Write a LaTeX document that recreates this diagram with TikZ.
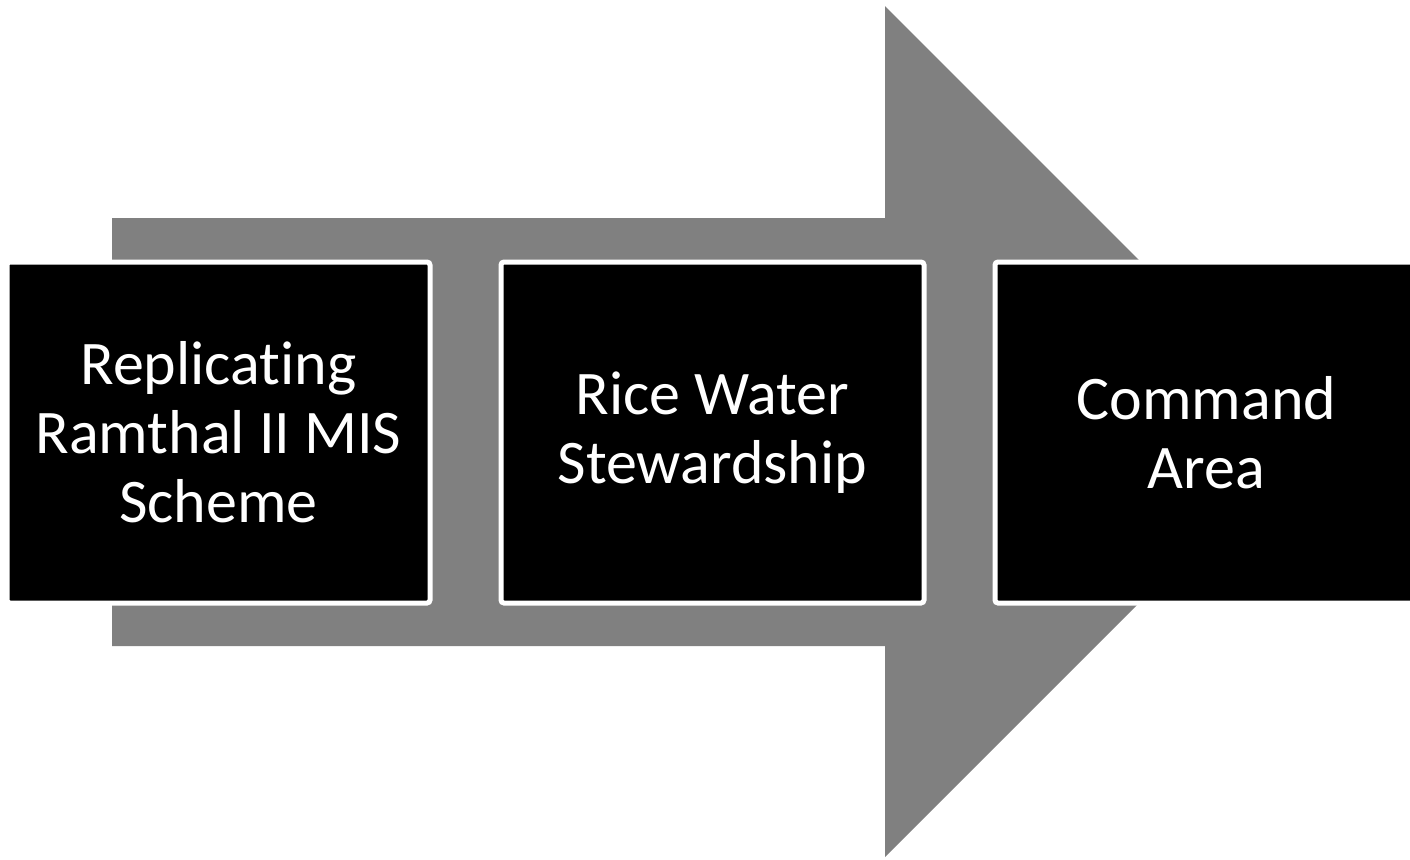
\documentclass[tikz,border=0pt]{standalone}
\usepackage{fontspec}
\setmainfont{Carlito}[Ligatures=NoCommon]
\usetikzlibrary{positioning}
\tikzset {
  % big gray arrow behind the stages
  flow arrow/.style = {
    fill = gray,
    draw = none
  },
  % one stage of the process
  stage/.style = {
    draw = white,
    fill = black,
    line width = 2.5pt,
    rounded corners = 1.5pt,
    minimum width = 211.5pt,
    minimum height = 170.5pt,
    inner sep = 0,
    text = white,
    align = center,
    font = \fontsize{31}{34.5}\selectfont
  },
  node distance = 33pt
}
\begin{document}
\begin{tikzpicture}[x=0.5pt, y=-0.5pt]
    \useasboundingbox (0,0) rectangle (1410,859);
    \clip (0,0) rectangle (1410,859);

    \fill[flow arrow] (112,218) -- (885,218) -- (885,6) -- (1310.5,431.5)
        -- (885,857) -- (885,646) -- (112,646) -- cycle;

    \node[stage] (replicate) at (218.5,432.5) {Replicating\\Ramthal II MIS\\Scheme};
    \node[stage] (rice) [right=of replicate] {Rice Water\\Stewardship};
    \node[stage] (command) [right=of rice] {Command\\Area};
\end{tikzpicture}
\end{document}
